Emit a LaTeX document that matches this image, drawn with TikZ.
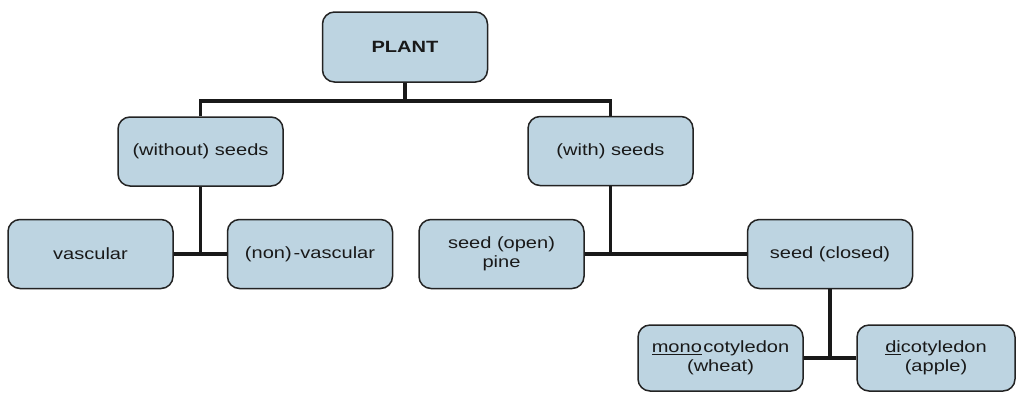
\documentclass[tikz,border=0pt]{standalone}
\usepackage{fontspec}
\setmainfont{Liberation Sans}[FakeStretch=1.23]
\definecolor{boxfill}{RGB}{189,212,225}
\definecolor{boxline}{RGB}{35,35,35}
\definecolor{txt}{RGB}{25,25,25}
\tikzset{
  box/.style={draw=boxline, line width=1.5pt, fill=boxfill, rounded corners=12pt,
    minimum width=165pt, minimum height=69pt, inner sep=0pt, align=center,
    text=txt, font=\fontsize{16.3}{19}\selectfont},
  conn/.style={draw=black!90, line width=3.5pt}
}
\begin{document}
\begin{tikzpicture}[x=1pt,y=1pt]
\useasboundingbox (0,0) rectangle (1016,-392);
\node[box, minimum height=70pt, font=\fontsize{16.3}{19}\selectfont\bfseries] (plant) at (405,-47) {PLANT};
\node[box] (without) at (200.5,-151.5) {(without) seeds};
\node[box] (with) at (610.5,-151) {(with) seeds};
\node[box] (vasc) at (90.5,-254) {vascular};
\node[box] (nonvasc) at (310,-254) {(non)\hspace{2pt}-vascular};
\node[box] (open) at (501.5,-254) {seed (open)\\pine};
\node[box] (closed) at (830,-254) {seed (closed)};
\node[box, minimum height=66pt] (mono) at (720.5,-358) {\underline{mono}\hspace{1.5pt}cotyledon\\(wheat)};
\node[box, minimum height=66pt, minimum width=158pt] (di) at (936,-358) {\underline{di}cotyledon\\(apple)};
% connectors
\coordinate (top) at (405,-101);
\draw[conn] (plant.south) -- (top);
\draw[conn] (without.north) |- (top) -| (with.north);
\coordinate (j1) at (without.south |- vasc.east);
\draw[conn] (without.south) -- (j1);
\draw[conn] (vasc.east) -- (nonvasc.west);
\coordinate (j2) at (with.south |- open.east);
\draw[conn] (with.south) -- (j2);
\draw[conn] (open.east) -- (closed.west);
\coordinate (j3) at (closed.south |- mono.east);
\draw[conn] (closed.south) -- (j3);
\draw[conn] (mono.east) -- (di.west);
\end{tikzpicture}
\end{document}
